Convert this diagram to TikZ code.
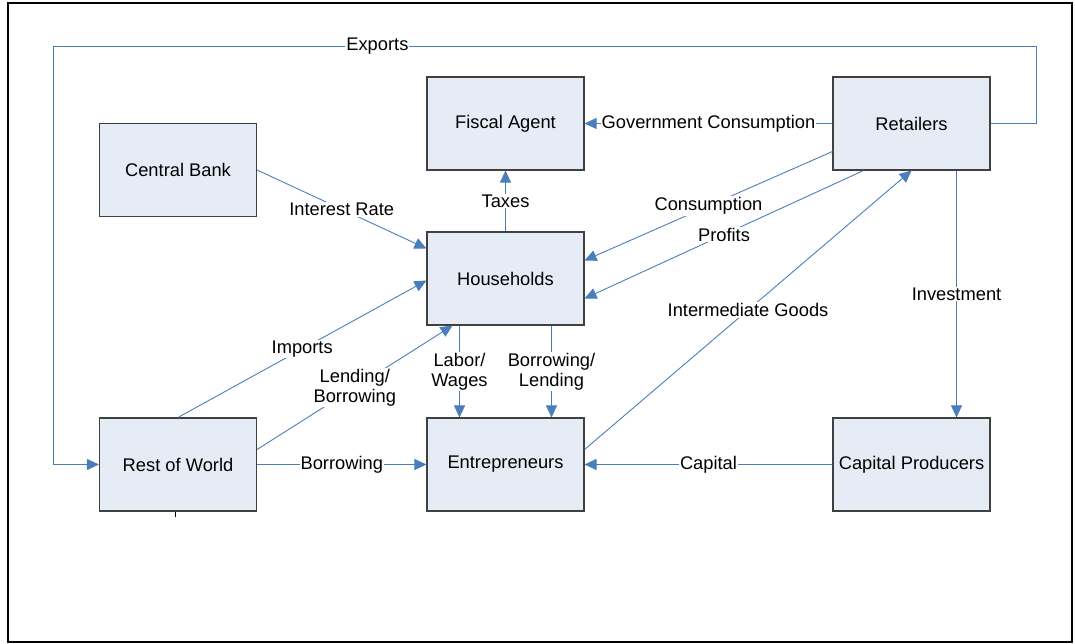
\documentclass[tikz,border=0pt]{standalone}
\usepackage{fontspec}
\setmainfont{Liberation Sans}
\usetikzlibrary{arrows.meta}

\definecolor{linkblue}{RGB}{74,126,187}
\definecolor{boxfill}{RGB}{230,236,246}
\definecolor{boxline}{RGB}{64,64,64}

\begin{document}
\begin{tikzpicture}[x=1pt, y=-1pt,
  agent/.style={draw=boxline, fill=boxfill, line width=1.1pt, minimum width=157pt, minimum height=93pt, inner sep=2pt, font=\fontsize{18.3}{20}\selectfont},
  flow/.style={draw=linkblue, line width=0.9pt, -{Triangle[length=12pt,width=11pt]}},
  lbl/.style={fill=white, inner sep=1pt, font=\fontsize{18.3}{20}\selectfont, align=center}]
\useasboundingbox (0,0) rectangle (1075,644);
\draw [line width=2pt] (8,3) rectangle (1072,642);

% agents
\node [agent] (cb) at (178,170) {Central Bank};
\node [agent] (fa) at (505.5,123.5) {Fiscal Agent};
\node [agent] (rt) at (911.5,123.5) {Retailers};
\node [agent] (hh) at (505.5,278.5) {Households};
\node [agent] (row) at (178,464.5) {Rest of World};
\node [agent] (en) at (505.5,464.5) {Entrepreneurs};
\node [agent] (cp) at (911.5,464.5) {Capital Producers};

% flows
\draw [flow] (cb.east) -- node [lbl] {Interest Rate} ([yshift=30pt]hh.west);
\draw [flow] (hh.north) -- node [lbl] {Taxes} (fa.south);
\draw [flow] (rt.west) -- node [lbl] {Government Consumption} (fa.east);
\draw [flow] ([yshift=-28pt]rt.west) -- node [lbl] {Consumption} ([yshift=18pt]hh.east);
\draw [flow] ([xshift=-48pt]rt.south) -- node [lbl] {Profits} ([yshift=-20pt]hh.east);
\draw [flow] ([yshift=15pt]en.east) -- node [lbl] {Intermediate Goods} (rt.south);
\draw [flow] ([xshift=45pt]rt.south) -- node [lbl] {Investment} ([xshift=45pt]cp.north);
\draw [flow] (cp.west) -- node [lbl] {Capital} (en.east);
\draw [flow] (row.north) -- node [lbl] {Imports} ([yshift=-2pt]hh.west);
\draw [flow] ([yshift=15pt]row.east) -- node [lbl] {Lending/\\Borrowing} ([xshift=-53pt]hh.south);
\draw [flow] (row.east) -- node [lbl] {Borrowing} (en.west);
\draw [flow] ([xshift=-46pt]hh.south) -- node [lbl] {Labor/\\Wages} ([xshift=-46pt]en.north);
\draw [flow] ([xshift=46pt]hh.south) -- node [lbl] {Borrowing/\\Lending} ([xshift=46pt]en.north);
\coordinate (exr) at (1036,46);
\coordinate (exl) at (53,46);
\draw [flow] (rt.east) -| (exr) -- node [lbl, pos=0.67] {Exports} (exl) |- (row.west);

\draw ([xshift=-3pt]row.south) -- ++(0,5);
\end{tikzpicture}
\end{document}
